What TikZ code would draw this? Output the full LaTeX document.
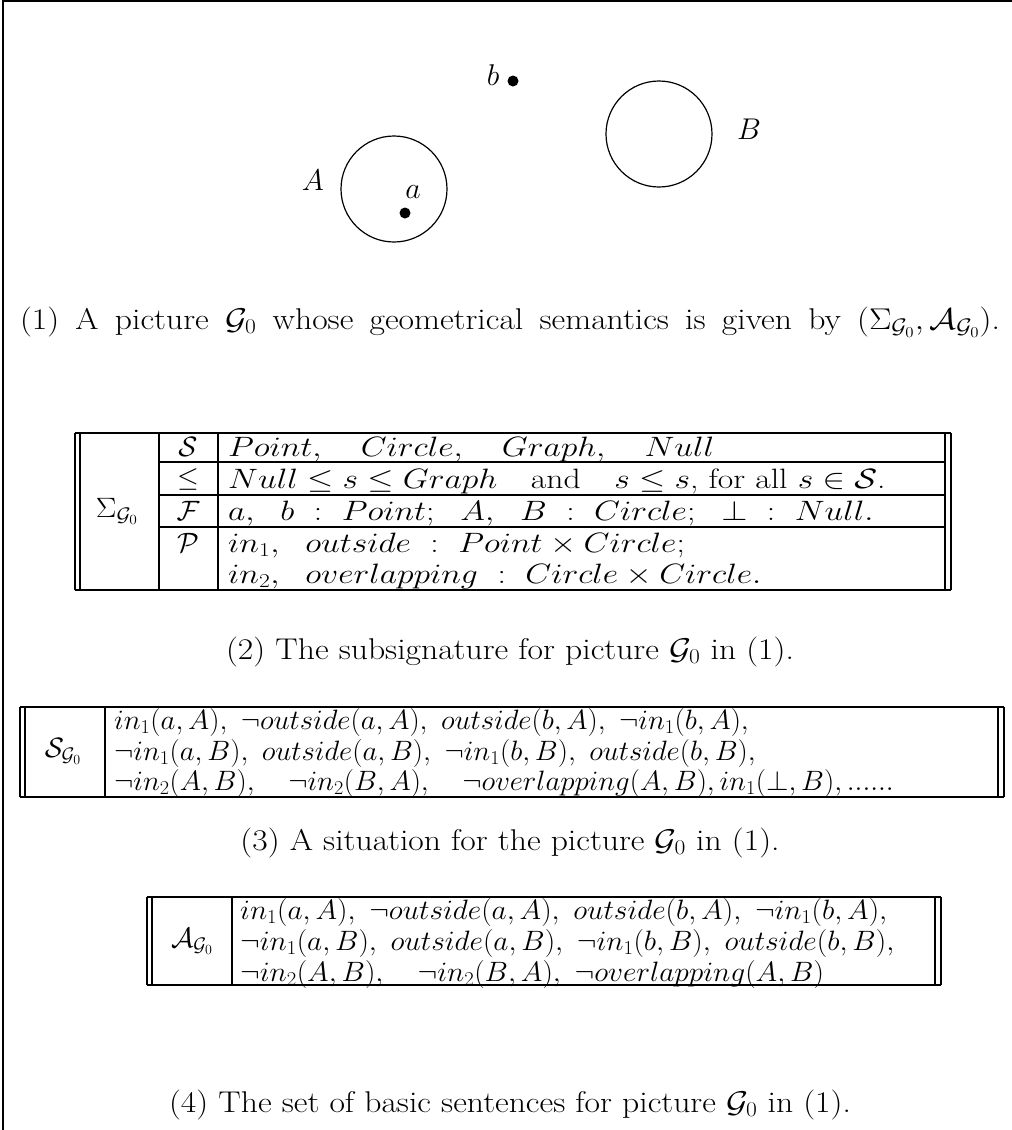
\RequirePackage{fix-cm}
\documentclass[tikz,border=0pt]{standalone}
\usepackage{amsmath}
\usepackage{amssymb}
\usepackage{graphicx}
\usepackage{tikz}
\newcommand{\Gz}{\mathcal{G}_0}
\newcommand{\stretchx}[2]{\scalebox{#1}[1]{#2}}
\begin{document}
\begin{tikzpicture}[x=1pt,y=-1pt,
  txt/.style={inner sep=0pt,font=\fontsize{28}{32}\selectfont},
  big/.style={inner sep=0pt,font=\fontsize{30}{34}\selectfont},
  capt/.style={big,anchor=center},
  cell/.style={txt,anchor=base west},
  hd/.style={txt,anchor=center},
  tabline/.style={line width=1.6pt},
  frameline/.style={line width=2.6pt},
  spot/.style={circle,fill=black,inner sep=0pt,minimum size=11pt}
]
\useasboundingbox (0,0) rectangle (1012,1130);
\draw[frameline] (3,1130) -- (3,1) -- (1012,1);

% picture G0
\draw[line width=1.2pt] (394,189) circle (53);
\draw[line width=1.2pt] (659,134) circle (53);
\node[spot] (pa) at (405,213) {};
\node[spot] (pb) at (513,81) {};
\node[capt] (la) at (413,192) {$a$};
\node[capt] (lb) at (493,75) {$b$};
\node[capt] (lA) at (313,180) {$A$};
\node[capt] (lB) at (749,129) {$B$};
\node[capt] (c1) at (510,322) {\stretchx{1.12}{\makebox[875pt][s]{(1) A picture $\Gz$ whose geometrical semantics is given by $(\Sigma_{\Gz},\mathcal{A}_{\Gz})$.}}};

% subsignature
\draw[frameline] (75,433) -- (951,433) (75,590) -- (951,590);
\draw[tabline] (75,433) -- (75,590) (80,433) -- (80,590) (945,433) -- (945,590) (951,433) -- (951,590);
\draw[tabline] (159,433) -- (159,590) (218,433) -- (218,590);
\foreach \y in {462,495,527} \draw[tabline] (159,\y) -- (945,\y);
\node[hd] (sig) at (117,511) {\stretchx{1.1}{$\Sigma_{\Gz}$}};
\node[hd] (hS) at (188,447) {$\mathcal{S}$};
\node[hd] (hL) at (188,479) {$\leq$};
\node[hd] (hF) at (188,511) {$\mathcal{F}$};
\node[hd] (hP) at (188,543) {$\mathcal{P}$};
\node[cell] (r1) at (228,456) {\stretchx{1.2}{$Point,\quad Circle,\quad Graph,\quad Null$}};
\node[cell] (r2) at (228,488) {\stretchx{1.2}{$Null\leq s\leq Graph$\quad and\quad $s\leq s$, for all $s\in\mathcal{S}$.}};
\node[cell] (r3) at (228,520) {\stretchx{1.2}{$a,\ \ b\ :\ Point;\ \ A,\ \ B\ :\ Circle;\ \ \bot\ :\ Null.$}};
\node[cell] (r4) at (228,552) {\stretchx{1.2}{$in_1,\ \ outside\ :\ Point\times Circle;$}};
\node[cell] (r5) at (228,583) {\stretchx{1.2}{$in_2,\ \ overlapping\ :\ Circle\times Circle.$}};
\node[capt] (c2) at (510,652) {\stretchx{1.12}{(2) The subsignature for picture $\Gz$ in (1).}};

% situation
\draw[frameline] (20,707) -- (1004,707) (20,797) -- (1004,797);
\draw[tabline] (20,707) -- (20,797) (25,707) -- (25,797) (998,707) -- (998,797) (1004,707) -- (1004,797) (105,707) -- (105,797);
\node[hd] (sit) at (63,751) {$\mathcal{S}_{\Gz}$};
\node[cell] (s1) at (114,729) {\stretchx{1.03}{$in_1(a,A),\ \neg outside(a,A),\ outside(b,A),\ \neg in_1(b,A),$}};
\node[cell] (s2) at (114,760) {\stretchx{1.03}{$\neg in_1(a,B),\ outside(a,B),\ \neg in_1(b,B),\ outside(b,B),$}};
\node[cell] (s3) at (114,790) {\stretchx{1.03}{$\neg in_2(A,B),\quad \neg in_2(B,A),\quad \neg overlapping(A,B), in_1(\bot,B),......$}};
\node[capt] (c3) at (510,843) {\stretchx{1.12}{(3) A situation for the picture $\Gz$ in (1).}};

% basic sentences
\draw[frameline] (147,897) -- (941,897) (147,985) -- (941,985);
\draw[tabline] (147,897) -- (147,985) (152,897) -- (152,985) (935,897) -- (935,985) (941,897) -- (941,985) (232,897) -- (232,985);
\node[hd] (bas) at (192,941) {$\mathcal{A}_{\Gz}$};
\node[cell] (b1) at (240,919) {\stretchx{1.05}{$in_1(a,A),\ \neg outside(a,A),\ outside(b,A),\ \neg in_1(b,A),$}};
\node[cell] (b2) at (240,950) {\stretchx{1.05}{$\neg in_1(a,B),\ outside(a,B),\ \neg in_1(b,B),\ outside(b,B),$}};
\node[cell] (b3) at (240,981) {\stretchx{1.05}{$\neg in_2(A,B),\quad \neg in_2(B,A),\ \neg overlapping(A,B)$}};
\node[capt] (c4) at (510,1105) {\stretchx{1.12}{(4) The set of basic sentences for picture $\Gz$ in (1).}};
\end{tikzpicture}
\end{document}
